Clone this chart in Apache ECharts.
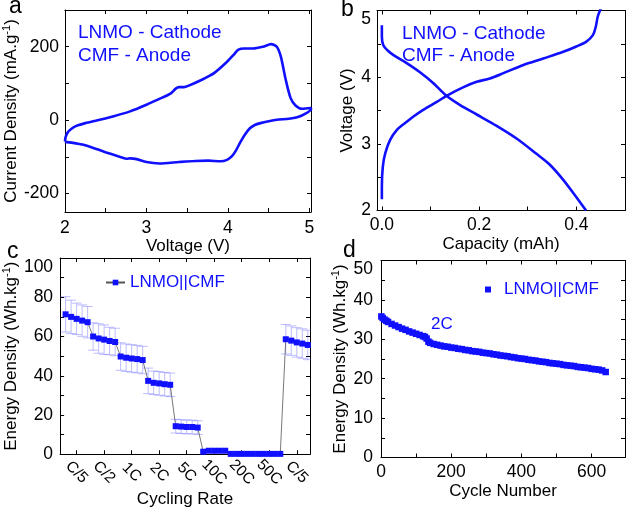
<!DOCTYPE html>
<html><head><meta charset="utf-8">
<script src="https://cdn.jsdelivr.net/npm/echarts@6.0.0/dist/echarts.min.js"></script>
<style>html,body{margin:0;padding:0;background:#fff}#c{width:627px;height:509px}</style>
</head><body><div id="c"></div>
<script>
// ---------- Panel a: cyclic voltammogram ----------
const cvUpVoltage = [2.0, 2.01, 2.03, 2.06, 2.1, 2.16, 2.25, 2.4, 2.6, 2.8, 3.0, 3.2, 3.3, 3.36, 3.4, 3.46, 3.52, 3.68, 3.83, 3.99, 4.07, 4.13, 4.2, 4.31, 4.43, 4.53, 4.6, 4.65, 4.71, 4.77, 4.83, 4.91, 5.02];
const cvUpCurrent = [-58, -45, -35, -27, -20, -14, -8, 0, 11, 24, 42, 62, 73, 86, 90, 90, 94, 110, 128, 159, 178, 192, 195, 195, 200, 207, 200, 173, 110, 60, 40, 31, 33];
const cvDownVoltage = [5.02, 4.93, 4.85, 4.75, 4.6, 4.5, 4.4, 4.33, 4.27, 4.21, 4.15, 4.1, 4.05, 3.99, 3.91, 3.76, 3.6, 3.4, 3.16, 3.0, 2.88, 2.8, 2.76, 2.68, 2.48, 2.28, 2.16, 2.0];
const cvDownCurrent = [30, 15, 8, 4, 1, -3, -8, -13, -22, -39, -61, -82, -98, -108, -112, -110, -111, -114, -118, -114, -106, -104, -105, -100, -86, -70, -64, -59];

// ---------- Panel b: charge / discharge ----------
const chargeCapacity = [0.0, 0.0, 0.002, 0.007, 0.017, 0.031, 0.051, 0.065, 0.085, 0.113, 0.133, 0.168, 0.195, 0.222, 0.25, 0.29, 0.332, 0.373, 0.4, 0.42, 0.434, 0.44, 0.444, 0.452];
const chargeVoltage = [2.17, 2.36, 2.66, 2.86, 3.06, 3.21, 3.33, 3.41, 3.51, 3.63, 3.72, 3.85, 3.93, 3.98, 4.06, 4.18, 4.28, 4.38, 4.46, 4.53, 4.63, 4.76, 4.91, 5.06];
const dischargeCapacity = [0.0, 0.0, 0.003, 0.012, 0.024, 0.051, 0.079, 0.106, 0.133, 0.161, 0.195, 0.236, 0.277, 0.318, 0.345, 0.373, 0.4, 0.42];
const dischargeVoltage = [4.78, 4.61, 4.48, 4.40, 4.33, 4.21, 4.07, 3.91, 3.72, 3.58, 3.44, 3.27, 3.08, 2.85, 2.69, 2.46, 2.20, 2.0];

// ---------- Panel c: rate capability ----------
const rateLabels = ['C/5', 'C/2', '1C', '2C', '5C', '10C', '20C', '50C', 'C/5'];
const rateEnergy = [71.3, 70.0, 69.0, 68.1, 67.3,
                    60.0, 59.0, 58.4, 57.7, 57.2,
                    49.8, 49.2, 48.8, 48.5, 48.0,
                    37.4, 36.4, 36.1, 35.7, 35.4,
                    14.3, 14.1, 13.9, 13.9, 13.6,
                    1.3, 1.8, 1.8, 1.8, 1.8,
                    0.2, 0.2, 0.2, 0.2, 0.2,
                    0.2, 0.2, 0.2, 0.2, 0.2,
                    58.6, 57.9, 57.0, 56.4, 55.7];
const rateError = [9, 8.5, 8, 8, 8,
                   7, 7.5, 7.5, 7, 7,
                   7, 7, 7, 7, 7,
                   6.5, 6, 6, 6, 6,
                   3.5, 3.5, 3.5, 3.5, 3.5,
                   0, 0, 0, 0, 0,
                   0, 0, 0, 0, 0,
                   0, 0, 0, 0, 0,
                   7.5, 7.5, 7.5, 7.5, 7.5];

// ---------- Panel d: long cycling ----------
const cycleNumber = [1, 5, 10, 15, 20, 30, 40, 50, 60, 70, 80, 90, 100, 110, 120, 125, 130, 135, 140, 150, 160, 170, 180, 190, 200, 210, 220, 230, 240, 250, 260, 270, 280, 290, 300, 310, 320, 330, 340, 350, 360, 370, 380, 390, 400, 410, 420, 430, 440, 450, 460, 470, 480, 490, 500, 510, 520, 530, 540, 550, 560, 570, 580, 590, 600, 610, 620, 630, 640];
const cycleEnergy = [35.8, 35.4, 35.0, 34.7, 34.4, 33.9, 33.5, 33.1, 32.7, 32.4, 32.0, 31.7, 31.4, 31.1, 30.8, 30.6, 30.2, 29.4, 29.1, 28.8, 28.6, 28.4, 28.2, 28.1, 27.9, 27.8, 27.6, 27.5, 27.3, 27.2, 27.0, 26.9, 26.8, 26.6, 26.5, 26.4, 26.2, 26.1, 25.9, 25.8, 25.7, 25.5, 25.4, 25.2, 25.1, 25.0, 24.8, 24.7, 24.6, 24.4, 24.3, 24.2, 24.0, 23.9, 23.8, 23.7, 23.5, 23.4, 23.3, 23.2, 23.0, 22.9, 22.8, 22.7, 22.5, 22.4, 22.3, 22.1, 21.7];

// ---------- tick arrays ----------
const aXTicks = [2, 2.5, 3, 3.5, 4, 4.5, 5];
const aXLabels = [2, 3, 4, 5];
const aYTicks = [-200, -100, 0, 100, 200];
const aYLabels = [-200, 0, 200];
const bXTicks = [0, 0.1, 0.2, 0.3, 0.4];
const bXLabels = [0, 0.2, 0.4];
const bYTicks = [2, 2.5, 3, 3.5, 4, 4.5, 5];
const bYLabels = [2, 3, 4, 5];
const cYTicks = [0, 10, 20, 30, 40, 50, 60, 70, 80, 90, 100];
const cYLabels = [0, 20, 40, 60, 80, 100];
const dXTicks = [0, 100, 200, 300, 400, 500, 600];
const dXLabels = [0, 200, 400, 600];
const dYTicks = [0, 5, 10, 15, 20, 25, 30, 35, 40, 45, 50];
const dYLabels = [0, 10, 20, 30, 40, 50];

const F = "'Liberation Sans', Arial, Helvetica, sans-serif";
const BLUE = '#1010ff';
const TICK_FS = 17.5;

const cycleIdx = rateEnergy.map((_, i) => i + 1);
const rateTickPos = rateLabels.map((_, k) => 5 * k + 3);

const nameRich = {
  t: {fontFamily: F, fontSize: 17, color: '#000', verticalAlign: 'bottom'},
  s: {fontFamily: F, fontSize: 11, color: '#000', verticalAlign: 'bottom', padding: [0, 0, 8, 0]}
};

function baseAxis(o) {
  return {
    type: 'value', gridIndex: o.grid, position: o.pos, min: o.min, max: o.max,
    axisLine: {show: true, onZero: false, lineStyle: {color: '#000', width: 1}},
    axisTick: {show: true, inside: true, length: 4, customValues: o.ticks, lineStyle: {color: '#000', width: 1}},
    axisLabel: o.mirror ? {show: false} : Object.assign({
      show: true, customValues: o.labels, color: '#000', fontFamily: F, fontSize: TICK_FS,
      margin: o.margin, formatter: o.fmt
    }, o.labelExtra || {}),
    splitLine: {show: false},
    name: o.mirror ? '' : o.name,
    nameLocation: 'middle', nameGap: o.nameGap,
    nameTextStyle: {fontFamily: F, fontSize: 17, color: '#000', rich: nameRich}
  };
}

const xAxes = [], yAxes = [];
function addPanel(g, xo, yo) {
  xAxes.push(baseAxis(Object.assign({grid: g, pos: 'bottom'}, xo)));
  xAxes.push(baseAxis(Object.assign({grid: g, pos: 'top', mirror: true}, xo)));
  yAxes.push(baseAxis(Object.assign({grid: g, pos: 'left'}, yo)));
  yAxes.push(baseAxis(Object.assign({grid: g, pos: 'right', mirror: true}, yo)));
}

addPanel(0,
  {min: 2, max: 5.02, ticks: aXTicks, labels: aXLabels, margin: 7, name: 'Voltage (V)', nameGap: 21, fmt: v => String(v)},
  {min: -250, max: 300, ticks: aYTicks, labels: aYLabels, margin: 6, name: '{t|Current Density (mA.g}{s|-1}{t|)}', nameGap: 41, fmt: v => String(v)});
addPanel(1,
  {min: -0.01, max: 0.5, ticks: bXTicks, labels: bXLabels, margin: 6, name: 'Capacity (mAh)', nameGap: 21, fmt: v => Number(v).toFixed(1)},
  {min: 2, max: 5, ticks: bYTicks, labels: bYLabels, margin: 6, name: 'Voltage (V)', nameGap: 21, fmt: v => String(v),
   labelExtra: {verticalAlignMaxLabel: 'top'}});
addPanel(2,
  {min: 0, max: 45.4, ticks: rateTickPos, labels: rateTickPos, margin: 18, name: 'Cycling Rate', nameGap: 31,
   fmt: v => rateLabels[Math.round((v - 3) / 5)],
   labelExtra: {rotate: -45, align: 'center', verticalAlign: 'middle', fontSize: 15.5}},
  {min: 0, max: 100, ticks: cYTicks, labels: cYLabels, margin: 7, name: '{t|Energy Density (Wh.kg}{s|-1}{t|)}', nameGap: 32, fmt: v => String(v),
   labelExtra: {verticalAlignMaxLabel: 'top'}});
addPanel(3,
  {min: 0, max: 695, ticks: dXTicks, labels: dXLabels, margin: 6, name: 'Cycle Number', nameGap: 23, fmt: v => String(v)},
  {min: 0, max: 50, ticks: dYTicks, labels: dYLabels, margin: 8, name: '{t|Energy Density (Wh.kg}{s|-1}{t|)}', nameGap: 32, fmt: v => String(v),
   labelExtra: {verticalAlignMaxLabel: 'top'}});

const cvData = cvUpVoltage.map((v, i) => [v, cvUpCurrent[i]])
  .concat(cvDownVoltage.map((v, i) => [v, cvDownCurrent[i]]));
const chargeData = chargeCapacity.map((c, i) => [c, chargeVoltage[i]]);
const dischargeData = dischargeCapacity.map((c, i) => [c, dischargeVoltage[i]]);
const rateData = rateEnergy.map((e, i) => [cycleIdx[i], e]);
const errData = rateEnergy.map((e, i) => [cycleIdx[i], e - rateError[i], e + rateError[i], rateError[i]]);
const cycleData = cycleNumber.map((n, i) => [n, cycleEnergy[i]]);

const chart = echarts.init(document.getElementById('c'), null, {renderer: 'canvas'});
chart.setOption({
  animation: false,
  backgroundColor: '#fff',
  textStyle: {fontFamily: F},
  grid: [
    {left: 60, top: 10, width: 251, height: 202},
    {left: 377, top: 10.5, width: 248, height: 200},
    {left: 60, top: 258, width: 250, height: 199},
    {left: 381, top: 260.5, width: 244, height: 197}
  ],
  xAxis: xAxes,
  yAxis: yAxes,
  legend: [
    {left: 100, top: 269, itemWidth: 19, itemHeight: 7, itemGap: 5, data: ['rate'],
     formatter: () => 'LNMO||CMF', textStyle: {fontFamily: F, fontSize: 17, color: BLUE}},
    {left: 480, top: 276, itemWidth: 6, itemHeight: 6, itemGap: 5, icon: 'rect', data: ['cycle'],
     formatter: () => 'LNMO||CMF', textStyle: {fontFamily: F, fontSize: 17, color: BLUE, padding: [0, 0, 0, 8]}}
  ],
  series: [
    {type: 'line', name: 'cv', xAxisIndex: 0, yAxisIndex: 0, data: cvData, showSymbol: false, smooth: 0.25,
     lineStyle: {color: BLUE, width: 2.6}},
    {type: 'line', name: 'charge', xAxisIndex: 2, yAxisIndex: 2, data: chargeData, showSymbol: false, smooth: 0.3,
     lineStyle: {color: BLUE, width: 2.6}},
    {type: 'line', name: 'discharge', xAxisIndex: 2, yAxisIndex: 2, data: dischargeData, showSymbol: false, smooth: 0.3,
     lineStyle: {color: BLUE, width: 2.6}},
    {type: 'custom', name: 'err', xAxisIndex: 4, yAxisIndex: 4, data: errData, clip: true,
     encode: {x: 0, y: [1, 2]},
     renderItem: function (params, api) {
       if (api.value(3) <= 0) return null;
       const x = api.value(0);
       const pHi = api.coord([x, api.value(2)]);
       const pLo = api.coord([x, api.value(1)]);
       const w = 5;
       const st = {stroke: 'rgba(90,90,255,0.4)', lineWidth: 1, fill: null};
       return {type: 'group', children: [
         {type: 'line', shape: {x1: pHi[0], y1: pHi[1], x2: pLo[0], y2: pLo[1]}, style: st},
         {type: 'line', shape: {x1: pHi[0] - w, y1: pHi[1], x2: pHi[0] + w, y2: pHi[1]}, style: st},
         {type: 'line', shape: {x1: pLo[0] - w, y1: pLo[1], x2: pLo[0] + w, y2: pLo[1]}, style: st}
       ]};
     }},
    {type: 'line', name: 'rate', xAxisIndex: 4, yAxisIndex: 4, data: rateData, symbol: 'rect', symbolSize: 6,
     showAllSymbol: true, lineStyle: {color: '#555', width: 0.8}, itemStyle: {color: BLUE}, z: 3},
    {type: 'scatter', name: 'cycle', xAxisIndex: 6, yAxisIndex: 6, data: cycleData, symbol: 'rect', symbolSize: 6.5,
     itemStyle: {color: BLUE, opacity: 1}}
  ],
  graphic: [
    {type: 'text', x: 9, y: 7, style: {text: 'a', font: '23px ' + F, fill: '#000', textVerticalAlign: 'middle'}},
    {type: 'text', x: 341, y: 9.5, style: {text: 'b', font: '23px ' + F, fill: '#000', textVerticalAlign: 'middle'}},
    {type: 'text', x: 7, y: 252, style: {text: 'c', font: '23px ' + F, fill: '#000', textVerticalAlign: 'middle'}},
    {type: 'text', x: 343, y: 251, style: {text: 'd', font: '23px ' + F, fill: '#000', textVerticalAlign: 'middle'}},
    {type: 'text', x: 78, y: 33, style: {text: 'LNMO - Cathode', font: '19px ' + F, fill: BLUE, textVerticalAlign: 'middle'}},
    {type: 'text', x: 78, y: 55.5, style: {text: 'CMF - Anode', font: '19px ' + F, fill: BLUE, textVerticalAlign: 'middle'}},
    {type: 'text', x: 402, y: 34, style: {text: 'LNMO - Cathode', font: '19px ' + F, fill: BLUE, textVerticalAlign: 'middle'}},
    {type: 'text', x: 402, y: 56, style: {text: 'CMF - Anode', font: '19px ' + F, fill: BLUE, textVerticalAlign: 'middle'}},
    {type: 'text', x: 431, y: 324, style: {text: '2C', font: '17px ' + F, fill: BLUE, textVerticalAlign: 'middle'}}
  ]
});
</script></body></html>
